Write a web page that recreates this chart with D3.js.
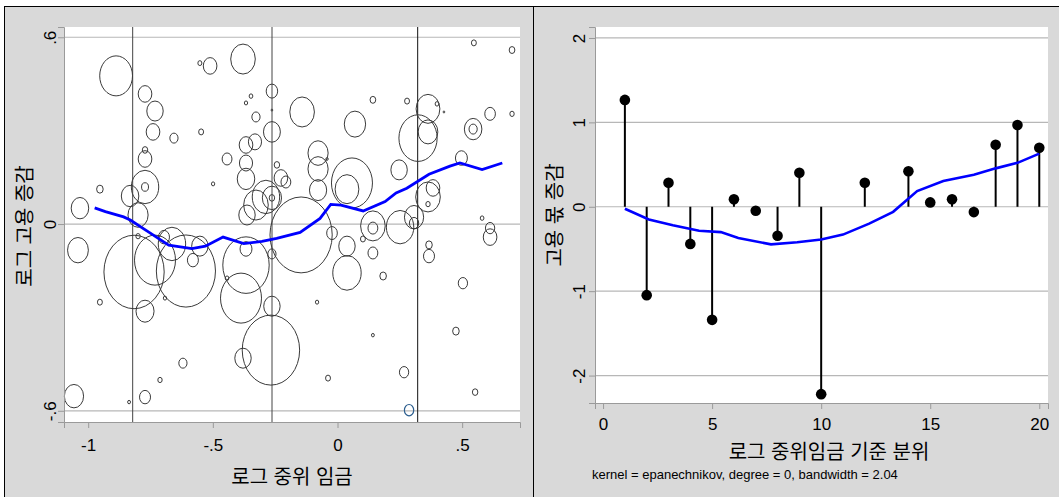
<!DOCTYPE html>
<html>
<head>
<meta charset="utf-8">
<script src="https://cdn.jsdelivr.net/npm/d3@7"></script>
<style>
  body { margin: 0; background: #fff; }
  svg text { font-family: "Liberation Sans", Arial, "Noto Sans CJK KR", sans-serif; fill: #000; }
</style>
</head>
<body>
<svg id="chart" width="1059" height="497"></svg>
<script>
// left panel: log median wage vs log employment change, weighted circles
const scatterX = [-0.888,-0.552,-0.511,-0.379,-0.772,-0.732,-0.740,-0.656,-0.547,-0.772,-0.772,-0.772,-0.772,-0.832,-0.953,-1.033,-0.800,
  -0.347,-0.367,-0.327,-0.263,-0.263,-0.263,-0.367,-0.331,-0.443,-0.367,-0.367,-0.499,-0.243,-0.227,-0.207,-0.287,-0.263,-0.263,-0.327,-0.363,
  -0.142,0.142,0.279,0.070,0.363,0.399,0.427,0.323,0.363,0.547,0.700,0.612,0.700,0.544,0.544,0.497,
  -0.078,-0.078,-0.078,-0.042,0.058,0.038,0.247,0.363,0.383,0.363,0.580,0.612,0.612,
  -0.146,-0.022,0.038,0.038,0.102,0.142,0.142,0.142,0.183,-0.082,0.142,-0.038,0.267,0.367,0.367,0.503,0.475,0.552,
  -0.267,-1.041,-0.816,-0.732,-0.608,-0.800,-0.696,-0.664,-0.580,-0.552,-0.953,-0.772,-0.692,-0.367,-0.367,-0.387,-0.443,-0.263,-0.263,
  -0.379,-0.620,-0.712,-0.772,-0.836,-1.057,0.251,0.307,0.307];
const scatterY = [0.476,0.517,0.508,0.530,0.418,0.363,0.296,0.276,0.296,0.238,0.209,0.119,0.119,0.090,0.112,0.051,0.029,
  0.411,0.389,0.344,0.427,0.366,0.296,0.254,0.264,0.209,0.196,0.145,0.129,0.190,0.148,0.135,0.087,0.084,0.084,0.061,0.029,
  0.360,0.399,0.395,0.321,0.370,0.386,0.360,0.276,0.296,0.582,0.559,0.354,0.354,0.305,0.305,0.212,
  0.228,0.177,0.109,0.209,0.132,0.112,0.174,0.087,0.116,0.064,0.019,-0.013,-0.042,
  -0.035,-0.029,-0.071,-0.157,-0.048,-0.006,-0.013,-0.093,-0.167,-0.251,-0.357,-0.495,-0.476,-0.067,-0.103,-0.190,-0.344,-0.540,
  -0.405,-0.084,-0.154,-0.116,-0.151,-0.039,-0.042,-0.064,-0.116,-0.071,-0.251,-0.280,-0.238,-0.132,-0.080,-0.238,-0.174,-0.096,-0.264,
  -0.431,-0.447,-0.501,-0.556,-0.572,-0.553,-0.010,0.022,0.003];
const scatterW = [4.0,0.06,0.69,2.25,0.69,1.0,0.69,0.25,0.09,0.11,0.69,2.79,0.18,1.14,0.16,1.14,1.51,
  0.05,0.04,0.25,0.49,0.01,1.06,0.69,0.64,0.36,0.64,1.14,0.04,0.11,0.69,0.36,2.79,0.11,1.37,2.25,1.0,
  2.25,0.12,0.09,1.69,2.1,0.05,0.01,5.43,1.44,0.09,0.12,0.42,0.07,1.14,0.25,0.53,
  1.51,1.51,1.1,0.02,6.25,2.1,1.0,2.25,0.69,0.07,0.05,0.32,0.69,
  14.4,0.42,1.0,3.0,0.09,2.25,0.36,0.36,0.16,0.04,0.03,0.09,0.32,0.16,0.45,0.32,0.16,0.11,
  12.25,1.61,13.5,6.25,13.0,0.07,0.45,2.79,0.45,1.0,0.09,1.21,0.04,8.0,0.53,6.25,0.05,0.25,1.0,
  1.0,0.25,0.07,0.45,0.03,1.37,2.79,1.37,0.32];
// one occupation drawn in a different outline colour
const outlierX = [0.287];
const outlierY = [-0.598];
const outlierW = [0.32];
// smoother through the scatter
const smoothX = [-0.974,-0.931,-0.858,-0.831,-0.757,-0.677,-0.584,-0.530,-0.459,-0.376,-0.303,-0.244,-0.150,-0.070,-0.027,0.014,0.103,0.191,0.235,0.278,0.367,0.451,0.491,0.580,0.661];
const smoothY = [0.052,0.040,0.023,0.013,-0.026,-0.068,-0.079,-0.071,-0.042,-0.063,-0.056,-0.046,-0.027,0.018,0.063,0.061,0.042,0.072,0.100,0.115,0.160,0.186,0.196,0.175,0.196];
// vertical reference lines (wage cut points)
const cutX = [-0.8215, -0.2627, 0.3216];
const xTicksL = [-1, -0.5, 0, 0.5];
const xTickLabelsL = ["-1", "-.5", "0", ".5"];
const yTicksL = [-0.6, 0, 0.6];
const yTickLabelsL = ["-.6", "0", ".6"];

// right panel: employment share change by wage quantile
const quantile = [1,2,3,4,5,6,7,8,9,10,12,14,15,16,17,18,19,20];
const shareChange = [1.266,-1.047,0.285,-0.44,-1.34,0.088,-0.047,-0.344,0.403,-2.22,0.285,0.42,0.052,0.088,-0.063,0.735,0.969,0.70];
const kernelX = [1,2.1,3.2,4.4,5.4,6.2,7.7,8.9,10,11,12.2,13.3,14.4,15.6,17,18,19,20];
const kernelY = [-0.024,-0.15,-0.22,-0.285,-0.30,-0.37,-0.445,-0.42,-0.387,-0.33,-0.2,-0.06,0.186,0.305,0.38,0.455,0.52,0.63];
const xTicksR = [0, 5, 10, 15, 20];
const yTicksR = [-2, -1, 0, 1, 2];

const svg = d3.select('#chart');
const grey = '#d9d9d9';
const gridColor = '#b7b7b7';
const hyphen = d => String(d).replace('\u2212', '-');

// backgrounds and frame
svg.append('rect').attr('x', 4).attr('y', 6).attr('width', 529).attr('height', 491).attr('fill', grey);
svg.append('rect').attr('x', 534).attr('y', 6).attr('width', 525).attr('height', 491).attr('fill', grey);
svg.append('line').attr('x1', 4).attr('x2', 1059).attr('y1', 6.5).attr('y2', 6.5).attr('stroke', '#000');
svg.append('line').attr('x1', 4.5).attr('x2', 4.5).attr('y1', 6).attr('y2', 497).attr('stroke', '#000');
svg.append('line').attr('x1', 533.5).attr('x2', 533.5).attr('y1', 6).attr('y2', 497).attr('stroke', '#000');

function panel(x0, y0, x1, y1) {
    svg.append('rect').attr('x', x0).attr('y', y0).attr('width', x1 - x0).attr('height', y1 - y0).attr('fill', '#fff');
}

function styleAxis(g) {
    g.select('.domain').attr('stroke', '#9a9a9a');
    g.selectAll('.tick line').attr('stroke', '#9a9a9a');
    g.selectAll('.tick text').attr('font-size', 17).attr('fill', '#000')
        .attr('font-family', '"Liberation Sans", Arial, sans-serif');
}

// ---------- left panel ----------
const xL = d3.scaleLinear().domain([-1.097, 0.732]).range([64, 520]);
const yL = d3.scaleLinear().domain([-0.636, 0.633]).range([422, 27]);
const rScale = d3.scaleSqrt().domain([0, 1]).range([0, 10]);

panel(64, 27, 520, 422);

svg.append('g').selectAll('line').data(yTicksL).enter().append('line')
    .attr('x1', 64).attr('x2', 520)
    .attr('y1', d => yL(d)).attr('y2', d => yL(d))
    .attr('stroke', gridColor).attr('stroke-width', 1.2);

svg.append('g').selectAll('line').data(cutX).enter().append('line')
    .attr('x1', d => xL(d)).attr('x2', d => xL(d))
    .attr('y1', 27).attr('y2', 422)
    .attr('stroke', (d, i) => i === 2 ? '#111' : '#444').attr('stroke-width', 1);

const bubbles = d3.range(scatterX.length).map(i => ({ x: scatterX[i], y: scatterY[i], w: scatterW[i] }));
svg.append('g').selectAll('ellipse').data(bubbles).enter().append('ellipse')
    .attr('cx', d => xL(d.x)).attr('cy', d => yL(d.y))
    .attr('rx', d => rScale(d.w) * 0.82).attr('ry', d => rScale(d.w))
    .attr('fill', 'none').attr('stroke', '#3a3a3a').attr('stroke-width', 1);

svg.append('g').selectAll('ellipse').data(outlierX.map((x, i) => ({ x, y: outlierY[i], w: outlierW[i] }))).enter()
    .append('ellipse')
    .attr('cx', d => xL(d.x)).attr('cy', d => yL(d.y))
    .attr('rx', d => rScale(d.w) * 0.82).attr('ry', d => rScale(d.w))
    .attr('fill', 'none').attr('stroke', '#2d5f8f').attr('stroke-width', 1.2);

svg.append('path')
    .datum(smoothX.map((x, i) => [x, smoothY[i]]))
    .attr('d', d3.line().x(d => xL(d[0])).y(d => yL(d[1])))
    .attr('fill', 'none').attr('stroke', '#0000ff').attr('stroke-width', 2.8);

const axBL = svg.append('g').attr('transform', 'translate(0,422)')
    .call(d3.axisBottom(xL).tickValues(xTicksL).tickFormat((d, i) => xTickLabelsL[i]).tickSizeOuter(0).tickSize(6));
styleAxis(axBL);
axBL.selectAll('.tick text').attr('y', 29).attr('dy', 0);

const axLL = svg.append('g').attr('transform', 'translate(64,0)')
    .call(d3.axisLeft(yL).tickValues(yTicksL).tickFormat((d, i) => yTickLabelsL[i]).tickSizeOuter(0).tickSize(6));
styleAxis(axLL);
axLL.selectAll('.tick text').attr('transform', 'rotate(-90)').attr('x', 0).attr('y', -8).attr('dy', 0).attr('text-anchor', 'middle');

svg.append('text').attr('x', 292).attr('y', 484).attr('text-anchor', 'middle').attr('font-size', 20).text('로그 중위 임금');
svg.append('text').attr('transform', 'translate(32,226) rotate(-90)').attr('text-anchor', 'middle').attr('font-size', 20).text('로그 고용 증감');

// ---------- right panel ----------
const xR = d3.scaleLinear().domain([-0.37, 20.4]).range([595, 1048]);
const yR = d3.scaleLinear().domain([-2.325, 2.13]).range([403, 27]);

panel(595, 27, 1048, 403);

svg.append('g').selectAll('line').data(yTicksR).enter().append('line')
    .attr('x1', 595).attr('x2', 1048)
    .attr('y1', d => yR(d)).attr('y2', d => yR(d))
    .attr('stroke', gridColor).attr('stroke-width', 1.2);

const stems = quantile.map((q, i) => ({ q, v: shareChange[i] }));
svg.append('g').selectAll('line').data(stems).enter().append('line')
    .attr('x1', d => xR(d.q)).attr('x2', d => xR(d.q))
    .attr('y1', yR(0)).attr('y2', d => yR(d.v))
    .attr('stroke', '#000').attr('stroke-width', 2);

svg.append('path')
    .datum(kernelX.map((x, i) => [x, kernelY[i]]))
    .attr('d', d3.line().x(d => xR(d[0])).y(d => yR(d[1])))
    .attr('fill', 'none').attr('stroke', '#0000ff').attr('stroke-width', 2.6);

svg.append('g').selectAll('circle').data(stems).enter().append('circle')
    .attr('cx', d => xR(d.q)).attr('cy', d => yR(d.v)).attr('r', 5.3)
    .attr('fill', '#000');

const axBR = svg.append('g').attr('transform', 'translate(0,403)')
    .call(d3.axisBottom(xR).tickValues(xTicksR).tickFormat(d => hyphen(d)).tickSizeOuter(0).tickSize(6));
styleAxis(axBR);
axBR.selectAll('.tick text').attr('y', 27).attr('dy', 0);

const axLR = svg.append('g').attr('transform', 'translate(595,0)')
    .call(d3.axisLeft(yR).tickValues(yTicksR).tickFormat(d => hyphen(d)).tickSizeOuter(0).tickSize(6));
styleAxis(axLR);
axLR.selectAll('.tick text').attr('transform', 'rotate(-90)').attr('x', 0).attr('y', -10).attr('dy', 0).attr('text-anchor', 'middle');

svg.append('text').attr('x', 829).attr('y', 459).attr('text-anchor', 'middle').attr('font-size', 20).text('로그 중위임금 기준 분위');
svg.append('text').attr('transform', 'translate(562,215) rotate(-90)').attr('text-anchor', 'middle').attr('font-size', 20).text('고용 몫 증감');
svg.append('text').attr('x', 592).attr('y', 479).attr('font-size', 13)
    .attr('font-family', '"Liberation Sans", Arial, sans-serif')
    .text('kernel = epanechnikov, degree = 0, bandwidth = 2.04');
</script>
</body>
</html>
